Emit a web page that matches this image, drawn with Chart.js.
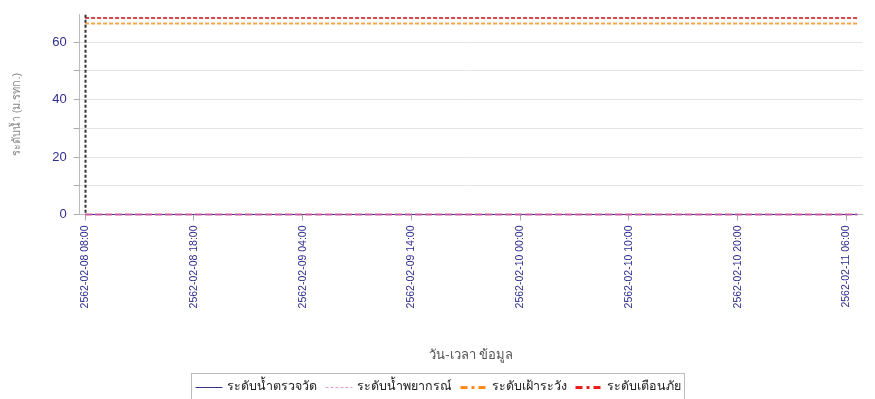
<!DOCTYPE html>
<html>
<head>
<meta charset="utf-8">
<script src="https://cdn.jsdelivr.net/npm/chart.js@4/dist/chart.umd.min.js"></script>
<style>
  html, body { margin: 0; padding: 0; background: #fff; }
  #wrap { width: 875px; height: 399px; position: relative; }
</style>
</head>
<body>
<div id="wrap"><canvas id="c"></canvas></div>
<script>
// Hourly time stamps (Buddhist-era dates), 08:00 on 2562-02-08 through 07:00 on 2562-02-11
const startDay = 8;
const startHour = 8;
const hourCount = 72;
const timeLabels = [];
for (let i = 0; i < hourCount; i++) {
  const h = startHour + i;
  const d = startDay + Math.floor(h / 24);
  const hh = h % 24;
  timeLabels.push('2562-02-' + String(d).padStart(2, '0') + ' ' + String(hh).padStart(2, '0') + ':00');
}

// Water level series (m. MSL)
const measuredLevel = [
  0,0,0,0,0,0,0,0,0,0,0,0,0,0,0,0,0,0,0,0,0,0,0,0,
  0,0,0,0,0,0,0,0,0,0,0,0,0,0,0,0,0,0,0,0,0,0,0,0,
  0,0,0,0,0,0,0,0,0,0,0,0,0,0,0,0,0,0,0,0,0,0,0,0
];
const forecastLevel = [
  0,0,0,0,0,0,0,0,0,0,0,0,0,0,0,0,0,0,0,0,0,0,0,0,
  0,0,0,0,0,0,0,0,0,0,0,0,0,0,0,0,0,0,0,0,0,0,0,0,
  0,0,0,0,0,0,0,0,0,0,0,0,0,0,0,0,0,0,0,0,0,0,0,0
];
const watchLevel = 66.5;
const dangerLevel = 68.4;

const seriesNames = ['ระดับน้ำตรวจวัด', 'ระดับน้ำพยากรณ์', 'ระดับเฝ้าระวัง', 'ระดับเตือนภัย'];

const FONT = 'Tahoma, "Liberation Sans", sans-serif';
const TICK_FONT = '"Liberation Sans", sans-serif';
const NAVY = '#2e2e8f';

// Dashed marker at the first time stamp (start of the data window)
const nowMarker = {
  id: 'nowMarker',
  afterDatasetsDraw(chart) {
    const { ctx, chartArea, scales } = chart;
    const x = Math.round(scales.x.getPixelForValue(0)) + 0.5;
    ctx.save();
    ctx.strokeStyle = '#333';
    ctx.lineWidth = 2;
    ctx.setLineDash([3, 2]);
    ctx.beginPath();
    ctx.moveTo(x, chartArea.top);
    ctx.lineTo(x, chartArea.bottom);
    ctx.stroke();
    ctx.restore();
  }
};

// Boxed legend along the bottom edge
const boxLegend = {
  id: 'boxLegend',
  afterDraw(chart) {
    const { ctx } = chart;
    const items = chart.data.datasets.map((ds, i) => ({
      text: seriesNames[i], color: ds.legendColor || ds.borderColor, dash: ds.legendDash || [], width: ds.legendLine
    }));
    ctx.save();
    ctx.font = '12.5px ' + FONT;
    const sampleW = 27, gap = 4, itemGap = 9, pad = 4;
    let total = pad;
    items.forEach((it) => { total += sampleW + gap + ctx.measureText(it.text).width + itemGap; });
    total += pad - itemGap;
    const left = Math.round((chart.width - total) / 2) + 0.5;
    const top = 373.5;
    ctx.strokeStyle = '#bbbbbb';
    ctx.lineWidth = 1;
    ctx.setLineDash([]);
    ctx.strokeRect(left, top, total, 40);
    let x = left + pad;
    const y = 387;
    items.forEach((it) => {
      ctx.strokeStyle = it.color;
      ctx.lineWidth = it.width;
      ctx.setLineDash(it.dash);
      ctx.beginPath();
      ctx.moveTo(x, y + 0.5);
      ctx.lineTo(x + sampleW, y + 0.5);
      ctx.stroke();
      x += sampleW + gap;
      ctx.fillStyle = '#222';
      ctx.textBaseline = 'middle';
      ctx.fillText(it.text, x, y);
      x += ctx.measureText(it.text).width + itemGap;
    });
    ctx.restore();
  }
};

new Chart(document.getElementById('c'), {
  type: 'line',
  data: {
    labels: timeLabels,
    datasets: [
      { label: seriesNames[0], data: measuredLevel, borderColor: '#34348f', borderWidth: 1, legendLine: 1, pointRadius: 0, clip: false, order: 4 },
      { label: seriesNames[1], data: forecastLevel, borderColor: '#c85a9c', borderWidth: 2, borderDash: [7, 3], legendColor: '#e0a0c8', legendDash: [3, 2], legendLine: 1, pointRadius: 0, clip: false, order: 3 },
      { label: seriesNames[2], data: timeLabels.map(() => watchLevel), borderColor: '#f0a848', borderWidth: 2, borderDash: [4, 2], legendColor: '#ff8c1a', legendDash: [7, 4, 3, 4], legendLine: 3, pointRadius: 0, order: 2 },
      { label: seriesNames[3], data: timeLabels.map(() => dangerLevel), borderColor: '#d84848', borderWidth: 2, borderDash: [4, 2], legendColor: '#ee1c1c', legendDash: [7, 4, 3, 4], legendLine: 3, pointRadius: 0, order: 1 }
    ]
  },
  options: {
    responsive: true,
    maintainAspectRatio: false,
    animation: false,
    layout: { padding: { top: 10, right: 9, bottom: 30, left: 10 } },
    plugins: {
      legend: { display: false },
      tooltip: { enabled: false }
    },
    scales: {
      x: {
        type: 'category',
        offset: true,
        border: { color: '#bbbbbb' },
        grid: {
          drawOnChartArea: false,
          tickLength: 6,
          tickColor: (c) => (c.index % 10 === 0 ? '#aaaaaa' : 'rgba(0,0,0,0)')
        },
        ticks: {
          autoSkip: false,
          maxRotation: 90,
          minRotation: 90,
          padding: 5,
          color: NAVY,
          font: { family: TICK_FONT, size: 10.5 },
          callback: (v, i) => (i % 10 === 0 ? timeLabels[i] : '')
        },
        title: {
          display: true,
          text: 'วัน-เวลา ข้อมูล',
          color: '#555',
          font: { family: FONT, size: 13 },
          padding: { top: 34, bottom: 6 }
        }
      },
      y: {
        min: 0,
        max: 69.5,
        border: { color: '#bbbbbb' },
        grid: {
          color: (c) => (c.tick && c.tick.value % 10 === 0 ? '#e4e4e4' : 'rgba(0,0,0,0)'),
          tickColor: (c) => (c.tick && c.tick.value % 5 === 0 ? '#aaaaaa' : 'rgba(0,0,0,0)'),
          tickLength: 6
        },
        ticks: {
          stepSize: 5,
          color: NAVY,
          padding: 7,
          font: { family: TICK_FONT, size: 13 },
          callback: (v) => (v % 20 === 0 ? String(v) : '')
        },
        title: {
          display: true,
          text: 'ระดับน้ำ (ม.รทก.)',
          color: '#888',
          font: { family: FONT, size: 11 },
          padding: { top: 0, bottom: 22 }
        }
      }
    }
  },
  plugins: [nowMarker, boxLegend]
});
</script>
</body>
</html>
